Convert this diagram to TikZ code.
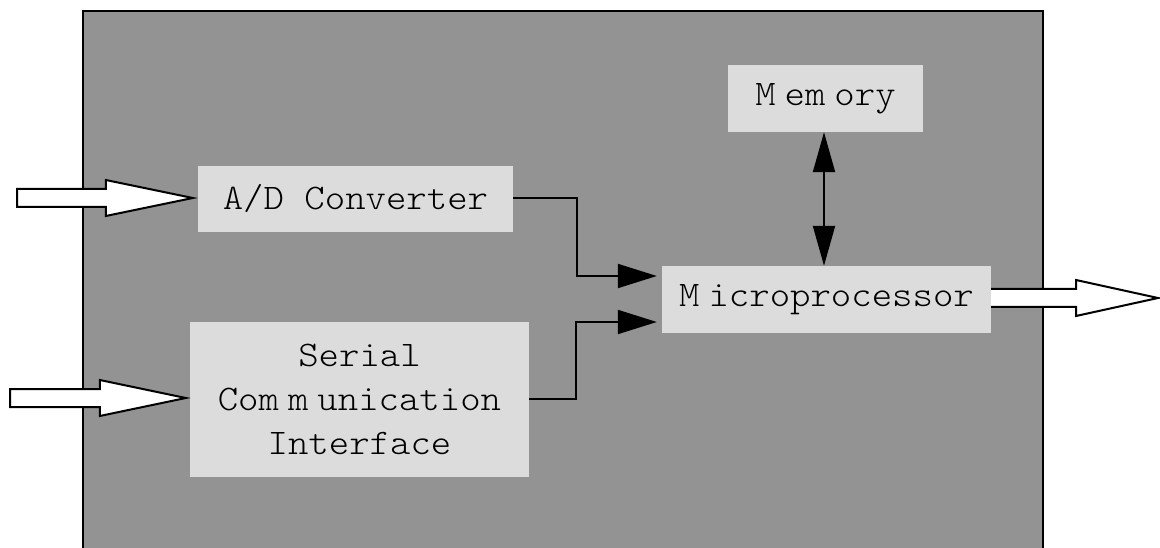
\documentclass[tikz,border=0pt]{standalone}
\usepackage{fontspec}
\newfontfamily\monolight[FakeStretch=1.08]{lmmonolt10-regular.otf}
\usetikzlibrary{arrows.meta,calc,backgrounds}
\definecolor{panel}{RGB}{147,147,147}
\definecolor{boxfill}{RGB}{220,220,220}
\newcommand\lblfont{\monolight\fontsize{36}{44}\selectfont}
\newcommand\tightspace{\spaceskip=0.25em\relax}
\tikzset{
  unit/.style={fill=boxfill, draw=none, inner sep=0pt, align=center, font=\lblfont},
  tight/.style={execute at begin node=\tightspace},
  wire/.style={line width=2pt, -{Triangle[length=39pt,width=24pt]}},
  bus/.style={line width=2pt, {Triangle[length=40pt,width=22pt]}-{Triangle[length=40pt,width=22pt]}},
  blk/.style={draw=black, fill=white, line width=2pt, line join=miter},
  frame/.style={draw=black, fill=panel, line width=2pt},
}
% hollow block arrow from #1 to tip #2 with a head of length #3
\newcommand\blockarrow[3]{%
  \draw[blk] ($(#1)+(0,-9)$) -- ($(#2)+(-#3,-9)$) -- ($(#2)+(-#3,-18)$) -- (#2)
    -- ($(#2)+(-#3,18)$) -- ($(#2)+(-#3,9)$) -- ($(#1)+(0,9)$) -- cycle;}
\begin{document}
\begin{tikzpicture}[x=1pt,y=-1pt]
  \clip (0,0) rectangle (1160,548);

  % functional blocks
  \node[unit, tight, minimum width=195pt, minimum height=67pt] (memory) at (825.5,98.5) {M em ory};
  \node[unit, minimum width=315pt, minimum height=66pt] (ad) at (355.5,199) {A/D Converter};
  \node[unit, tight, minimum width=339pt, minimum height=155pt] (serial) at (359.5,399.5)
    {Serial\\Com m unication\\Interface};
  \node[unit, tight, minimum width=329pt, minimum height=67pt] (micro) at (826.5,299.5) {M icroprocessor};

  % free ends of the block arrows
  \coordinate (in1) at (17,198);
  \coordinate (in2) at (10,398);
  \coordinate (out) at (1158,298);
  \coordinate (outstart) at ($(micro.east)+(-6,-1.5)$);

  \begin{pgfonlayer}{background}
    \draw[frame] (83,11) rectangle (1043,560);
    \blockarrow{outstart}{out}{82}
  \end{pgfonlayer}

  % inputs
  \coordinate (t1) at ($(ad.west)+(-5,-1)$);
  \coordinate (t2) at ($(serial.west)+(-4,-1.5)$);
  \blockarrow{in1}{t1}{87}
  \blockarrow{in2}{t2}{86}

  % data paths into the microprocessor
  \coordinate (m1) at ($(micro.west)+(-5,-23.5)$);
  \coordinate (m2) at ($(micro.west)+(-5,22.5)$);
  \draw[wire] ($(ad.east)+(0,-1)$) -- ++(64,0) |- (m1);
  \draw[wire] ($(serial.east)+(0,-0.5)$) -- ++(47,0) |- (m2);

  % memory bus
  \draw[bus] ($(memory.south)+(-1.5,0)$) -- ($(memory.south |- micro.north)+(-1.5,0)$);
\end{tikzpicture}
\end{document}
